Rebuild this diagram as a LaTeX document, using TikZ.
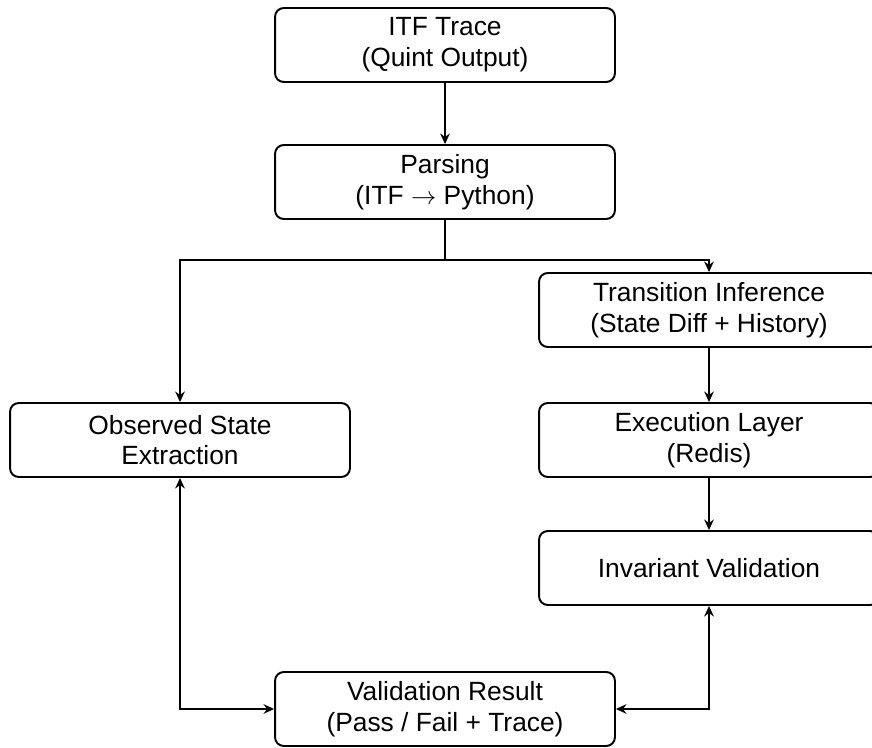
\documentclass[tikz,border=0pt]{standalone}
\usepackage{fontspec}
\setmainfont{Liberation Sans}
\usepackage{tikz}
\usetikzlibrary{arrows.meta,calc}
\tikzstyle{stage}=[rectangle,rounded corners=5pt,draw,line width=1.1pt,minimum width=6.8cm,minimum height=1.48cm,inner sep=0pt,align=center,font=\fontsize{15}{17.5}\selectfont]
\tikzstyle{edge} = [draw,line width=0.8pt,-{Stealth[length=6pt,width=5.5pt,inset=2pt]}]
\tikzstyle{twoway} = [draw,line width=0.8pt,{Stealth[length=6pt,width=5.5pt,inset=2pt]}-{Stealth[length=6pt,width=5.5pt,inset=2pt]}]

\begin{document}
\begin{tikzpicture}[x=0.02cm,y=-0.02cm]

    \useasboundingbox (0,0) rectangle (872,747);

     \foreach \x/\y/\name/\label in {445/45/itf/{ITF Trace\\(Quint Output)},
                                     445/182/parse/{Parsing\\(ITF $\rightarrow$ Python)},
                                     709/310/trans/{Transition Inference\\(State Diff + History)},
                                     180/440/obs/{Observed State\\Extraction},
                                     709/440/exec/{Execution Layer\\(Redis)},
                                     709/568/inv/{Invariant Validation},
                                     445/709/result/{Validation Result\\(Pass / Fail + Trace)}}
        \node[stage] (\name) at (\x, \y) {\label};

    \coordinate (split) at (445,260);

    \foreach \source/ \dest in {itf/parse, trans/exec, exec/inv}
        \path[edge] (\source) -- (\dest);

    \path[edge] (parse.south) -- (split) -| (obs.north);
    \path[edge] (split) -| (trans.north);

    \path[twoway] (obs.south) |- (result.west);
    \path[twoway] (inv.south) |- (result.east);

   \end{tikzpicture}
\end{document}
